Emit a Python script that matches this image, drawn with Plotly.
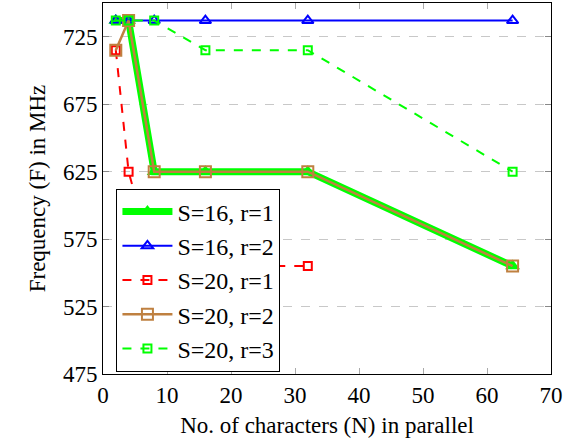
import plotly.graph_objects as go

N = [2, 4, 8, 16, 32, 64]
N_red = [2, 4, 8, 16, 32]
s16_r1 = [737, 737, 625, 625, 625, 555]
s16_r2 = [737, 737, 737, 737, 737, 737]
s20_r1 = [715, 625, 555, 555, 555]
s20_r2 = [715, 737, 625, 625, 625, 555]
s20_r3 = [737, 737, 737, 715, 715, 625]
yticks = [475, 525, 575, 625, 675, 725]
xticks = [0, 10, 20, 30, 40, 50, 60, 70]

FONT = "Times New Roman"
fig = go.Figure()
fig.add_trace(go.Scatter(x=N, y=s16_r1, name="S=16, r=1", mode="lines+markers", legendgroup="a",
                         line=dict(color="#00ff00", width=7),
                         marker=dict(symbol="triangle-up", size=13, color="#00ff00")))
fig.add_trace(go.Scatter(x=N, y=s16_r2, name="S=16, r=2", mode="lines+markers", legendgroup="b",
                         line=dict(color="#0000ff", width=2),
                         marker=dict(symbol="triangle-up-open", size=10, color="#0000ff",
                                     line=dict(width=2, color="#0000ff"))))
fig.add_trace(go.Scatter(x=N_red, y=s20_r1, name="S=20, r=1", mode="lines+markers", legendgroup="c",
                         line=dict(color="#ff0000", width=2, dash="dash"),
                         marker=dict(symbol="square-open", size=8, color="#ff0000",
                                     line=dict(width=2, color="#ff0000"))))
fig.add_trace(go.Scatter(x=N, y=s20_r2, name="S=20, r=2", mode="lines+markers", legendgroup="d",
                         line=dict(color="#bf8040", width=2.5),
                         marker=dict(symbol="square-open", size=11, color="#bf8040",
                                     line=dict(width=2, color="#bf8040"))))
fig.add_trace(go.Scatter(x=N, y=s20_r3, name="S=20, r=3", mode="lines+markers", legendgroup="e",
                         line=dict(color="#00ff00", width=2, dash="dash"),
                         marker=dict(symbol="square-open", size=8, color="#00ff00",
                                     line=dict(width=2, color="#00ff00"))))

tf = dict(family=FONT, size=23, color="black")
fig.update_layout(
    width=565, height=446,
    margin=dict(l=103, r=14, t=3, b=72, autoexpand=False),
    plot_bgcolor="white", paper_bgcolor="white",
    font=dict(family=FONT, size=23, color="black"),
    showlegend=True,
    legend=dict(x=0.03, y=0.5, xanchor="left", yanchor="top",
                bordercolor="black", borderwidth=1, bgcolor="white",
                font=dict(family=FONT, size=24, color="black"), tracegroupgap=0,
                itemwidth=50),
    xaxis=dict(range=[0, 70], tickvals=xticks, showgrid=False, zeroline=False,
               showline=True, linecolor="black", linewidth=1, mirror="ticks",
               ticks="inside", ticklen=6, tickcolor="#aaaaaa", automargin=False,
               title=dict(text="No. of characters (N) in parallel", standoff=10, font=tf),
               tickfont=tf),
    yaxis=dict(range=[475, 750], tickvals=yticks, showgrid=True, gridcolor="#c8c8c8",
               griddash="dash", gridwidth=1, zeroline=False,
               showline=True, linecolor="black", linewidth=1, mirror="ticks",
               ticks="inside", ticklen=6, tickcolor="#888888", automargin=False,
               title=dict(text="Frequency (F) in MHz", standoff=10, font=tf),
               tickfont=tf),
)
fig.write_html("out.html", config={"displayModeBar": False},
               post_script="document.body.style.margin='0';")
